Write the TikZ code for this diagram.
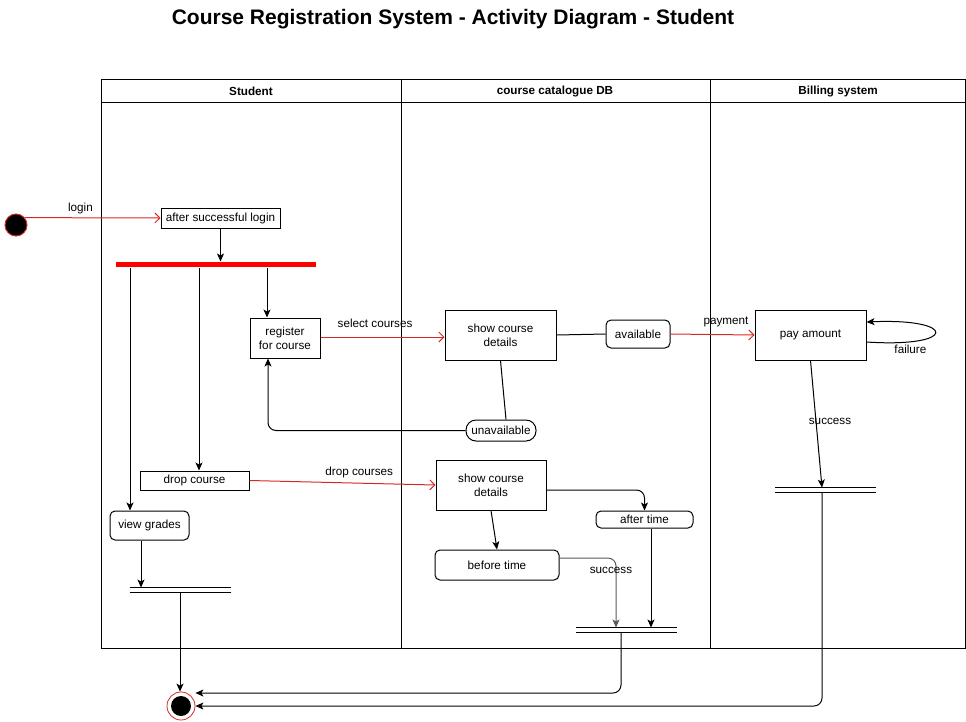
\documentclass[tikz,border=0pt]{standalone}
\usepackage{fontspec}
\setmainfont{Liberation Sans}
\usetikzlibrary{arrows.meta}
\definecolor{flowred}{RGB}{214,40,40}

\begin{document}
\begin{tikzpicture}[x=1pt,y=-1pt,line width=1pt,
	every node/.style={font=\fontsize{11.7}{14}\selectfont, inner sep=0pt, text=black},
	act/.style 2 args={draw, minimum width=#1pt, minimum height=#2pt, align=center},
	rnd/.style 2 args={act={#1}{#2}, rounded corners=5pt},
	joinbar/.style={minimum width=100pt, minimum height=4pt},
	arr/.style={-{Stealth[length=8pt,width=7pt,inset=2pt]}},
	redarr/.style={flowred, -{Straight Barb[length=5pt,width=10pt]}}]
 \useasboundingbox (0,0) rectangle (966,721);

 \node[font=\bfseries\fontsize{21}{25}\selectfont] (title) at (453,19) {Course Registration System - Activity Diagram - Student};

	% swimlanes
 \draw (101,79) rectangle (965,648);
 \draw (101,102) -- (965,102);
 \draw (401,79) -- (401,648);
 \draw (710,79) -- (710,648);
 \node[font=\bfseries\fontsize{11.7}{14}\selectfont] (hStu) at (251,91) {Student};
 \node[font=\bfseries\fontsize{11.7}{14}\selectfont] (hCat) at (555,91) {course catalogue DB};
 \node[font=\bfseries\fontsize{11.7}{14}\selectfont] (hBill) at (838,91) {Billing system};

	% states
 \node[circle, fill=black, draw=flowred, minimum size=22pt] (start) at (16,225) {};
 \node[act={119}{20}] (login) at (220.5,218) {after successful login};
 \node[fill=red, minimum width=200pt, minimum height=5pt] (fork) at (216,264.5) {};
 \node[act={70}{40}] (reg) at (285,338) {register\\for course};
 \node[act={111}{50}] (show1) at (500.5,335) {show course\\details};
 \node[rnd={64}{28}] (avail) at (638,334) {available};
 \node[act={111}{50}] (pay) at (810.5,335) {pay amount};
 \node[act={70}{21}, rounded corners=10pt] (unav) at (501,430.5) {unavailable};
 \node[act={109}{19}] (drop) at (194.5,480.5) {drop course};
 \node[act={110}{50}] (show2) at (491,485) {show course\\details};
 \node[rnd={97}{17}] (after) at (644.5,519.5) {after time};
 \node[rnd={124}{30}] (before) at (497,565) {before time};
 \node[rnd={79}{29}] (grades) at (149.5,525.5) {view grades};

 \node[joinbar] (jStu) at (180,590) {};
 \node[joinbar] (jCat) at (626,630) {};
 \node[joinbar] (jBill) at (825.5,490) {};
	\foreach \j in {jStu,jCat,jBill}
 \draw (\j.north west) -- (\j.north east) (\j.south west) -- (\j.south east);

 \node[circle, draw=flowred, minimum size=28pt, line width=.8pt] (fin) at (181,706) {};
 \fill[black] (fin.center) circle (10pt);

	% flows
 \draw[redarr] (start.40) -- node[pos=.41, above=3pt] {login} (login.west);
 \draw[arr] (login.south) -- (login.south |- fork.north);
 \draw[arr] (fork.south -| 130,0) -- (grades.north -| 130,0);
 \draw[arr] (fork.south -| 199,0) -- (drop.north -| 199,0);
 \draw[arr] (fork.south -| 267,0) -- (reg.north -| 267,0);

 \draw[redarr] (reg.east |- 0,337) -- node[pos=.44, above=9pt] {select courses} (show1.west |- 0,337);
 \draw (show1.east) -- (avail.west);
 \draw[redarr] (avail.east) -- node[pos=.66, above=7pt] {payment} (pay.west);
 \draw (show1.south) -- (unav.north -| 506,0);
 \draw[arr, rounded corners=8pt] (unav.west) -| (reg.south -| 268,0);
 \draw[arr] ([yshift=-7pt]pay.east) .. controls (958,348) and (958,318) .. node[pos=.2, below=3pt] {failure} ([yshift=13pt]pay.east);
 \draw[arr] (pay.south) -- node[pos=.48, xshift=14pt] {success} (jBill.north -| 822,0);
 \draw[arr, rounded corners=8pt] (jBill.south -| 822,0) |- (fin.east);

 \draw[redarr] (drop.east) -- node[pos=.59, above=5pt] {drop courses} (show2.west);
 \draw[arr, rounded corners=8pt] (show2.east |- 0,490) -| (after.north);
 \draw[arr] (show2.south) -- (before.north);
 \draw[arr, rounded corners=8pt, black!65] (before.east |- 0,558) -| node[pos=.59, xshift=-5pt] {success} (jCat.north -| 616,0);
 \draw[arr] (after.south -| 651,0) -- (jCat.north -| 651,0);
 \draw[arr, rounded corners=8pt] (jCat.south -| 621,0) |- ([yshift=13pt]fin.east);

 \draw[arr] (grades.south -| 141,0) -- (jStu.north -| 141,0);
 \draw[arr] (jStu.south) -- (fin.north -| jStu.south);
\end{tikzpicture}
\end{document}
